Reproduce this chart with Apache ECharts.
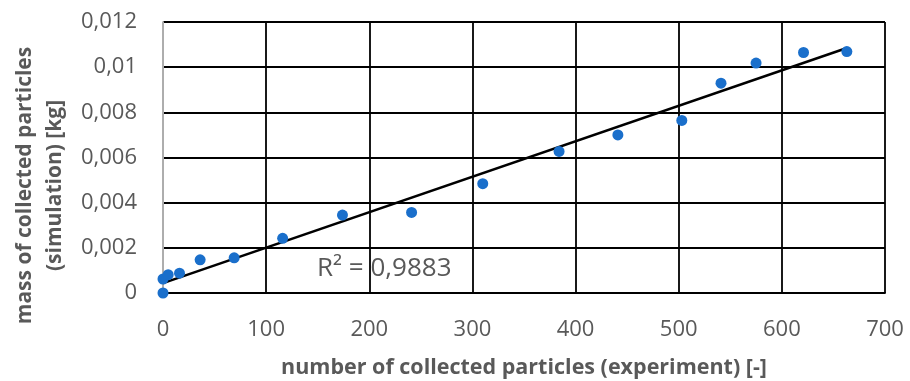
<!DOCTYPE html>
<html>
<head>
<meta charset="utf-8">
<script src="https://cdn.jsdelivr.net/npm/echarts@6/dist/echarts.min.js"></script>
<style>
  html, body { margin: 0; padding: 0; background: #fff; }
  #chart { width: 910px; height: 381px; }
</style>
</head>
<body>
<div id="chart"></div>
<script>
// measured points (experiment count, simulated mass in kg)
let expCount = [0, 0, 5, 16, 36, 69, 116, 174, 241, 310, 384, 441, 503, 541, 575, 621, 663];
let simMass = [0, 0.00062, 0.00081, 0.00088, 0.00147, 0.00156, 0.00242, 0.00345, 0.00357,
  0.00484, 0.00627, 0.0070, 0.00764, 0.00929, 0.01018, 0.01065, 0.01069];
// linear trendline end points as drawn
let trendX = [0, 663];
let trendY = [0.00044, 0.01085];
let r2Label = "R² = 0,9883";

let grey = "#595959";
let font = "Open Sans";

let pts = expCount.map((v, i) => [v, simMass[i]]);
let trend = trendX.map((v, i) => [v, trendY[i]]);

var myChart = echarts.init(document.getElementById("chart"));
let option = {
  animation: false,
  grid: { left: 163, right: 25, top: 22, bottom: 88, outerBoundsMode: "none", containLabel: false },
  xAxis: {
    type: "value",
    min: 0,
    max: 700,
    interval: 100,
    name: "number of collected particles (experiment) [-]",
    nameLocation: "middle",
    nameGap: 64,
    nameTextStyle: { color: grey, fontFamily: font, fontSize: 21.5, fontWeight: "bold" },
    axisLine: { show: true, lineStyle: { color: "#000", width: 1.8 } },
    axisTick: { show: false },
    axisLabel: { color: grey, fontFamily: font, fontSize: 22, margin: 26 },
    splitLine: { show: true, lineStyle: { color: "#000", width: 1.8 } }
  },
  yAxis: {
    type: "value",
    min: 0,
    max: 0.012,
    interval: 0.002,
    name: "mass of collected particles\n(simulation) [kg]",
    nameLocation: "middle",
    nameGap: 84,
    nameTextStyle: {
      color: grey, fontFamily: font, fontSize: 21, fontWeight: "bold",
      lineHeight: 30, padding: [0, 56, 0, 0]
    },
    axisLine: { show: true, lineStyle: { color: "#bfbfbf", width: 1.8 } },
    axisTick: { show: false },
    axisLabel: {
      color: grey,
      fontFamily: font,
      fontSize: 22,
      margin: 26,
      formatter: function(v) {
        return parseFloat(v.toFixed(4)).toString().replace(".", ",");
      }
    },
    splitLine: { show: true, lineStyle: { color: "#000", width: 1.8 } }
  },
  graphic: [
    {
      type: "text",
      left: 317,
      top: 256,
      style: { text: r2Label, fill: grey, font: "26px 'Open Sans'" }
    }
  ],
  series: [
    {
      type: "line",
      data: trend,
      symbol: "none",
      lineStyle: { color: "#000", width: 2.5 },
      z: 3
    },
    {
      type: "scatter",
      data: pts,
      symbolSize: 11,
      itemStyle: { color: "#1a6fcb", opacity: 1 },
      z: 4
    }
  ]
};
myChart.setOption(option);
</script>
</body>
</html>
